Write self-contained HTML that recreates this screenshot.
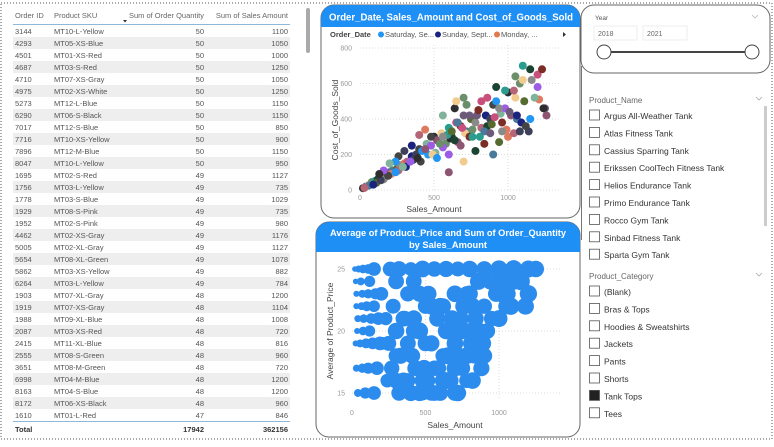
<!DOCTYPE html>
<html><head><meta charset="utf-8">
<style>
html,body{margin:0;padding:0;background:#fff;}
body{width:774px;height:442px;overflow:hidden;font-family:"Liberation Sans",sans-serif;}
svg text{font-family:"Liberation Sans",sans-serif;}
</style></head>
<body>
<svg id="root" width="774" height="442" viewBox="0 0 774 442" xmlns="http://www.w3.org/2000/svg">
  <rect x="1" y="3" width="771" height="436" fill="none" stroke="#555" stroke-width="1" stroke-dasharray="1,2"/>
  <g id="table"></g>
  <rect x="306" y="8" width="4" height="45" rx="2" fill="#aaa"/>

  <g>
    <rect x="321" y="5" width="259" height="213" rx="13" fill="#fff" stroke="#666" stroke-width="1"/>
    <path d="M321,27 V18 A13,13 0 0 1 334,5 H567 A13,13 0 0 1 580,18 V27 Z" fill="#1E8FF5"/>
    <text x="451" y="20.5" text-anchor="middle" font-size="10" font-weight="bold" fill="#fff" textLength="244" lengthAdjust="spacingAndGlyphs">Order_Date, Sales_Amount and Cost_of_Goods_Sold</text>
    <g font-size="7.5" fill="#555">
      <text x="330" y="37" font-weight="bold" fill="#444">Order_Date</text>
      <circle cx="381" cy="34.5" r="3" fill="#2196F3"/><text x="385" y="37">Saturday, Se...</text>
      <circle cx="438" cy="34.5" r="3" fill="#1a237e"/><text x="442" y="37">Sunday, Sept...</text>
      <circle cx="497" cy="34.5" r="3" fill="#E07A4F"/><text x="501" y="37">Monday, ...</text>
      <path d="M563,32 L566,34.5 L563,37 Z" fill="#333"/>
    </g>
    <g id="c1grid"></g>
    <g id="c1pts"></g>
    <text x="434" y="212" text-anchor="middle" font-size="8.5" fill="#444">Sales_Amount</text>
    <text transform="translate(338,120) rotate(-90)" text-anchor="middle" font-size="8.5" fill="#444">Cost_of_Goods_Sold</text>
  </g>

  <g>
    <rect x="316" y="222" width="264" height="215" rx="13" fill="#fff" stroke="#666" stroke-width="1"/>
    <path d="M316,252 V235 A13,13 0 0 1 329,222 H567 A13,13 0 0 1 580,235 V252 Z" fill="#1E8FF5"/>
    <text x="448" y="236" text-anchor="middle" font-size="9.5" font-weight="bold" fill="#fff" textLength="236" lengthAdjust="spacingAndGlyphs">Average of Product_Price and Sum of Order_Quantity</text>
    <text x="448" y="248" text-anchor="middle" font-size="9.5" font-weight="bold" fill="#fff" textLength="78" lengthAdjust="spacingAndGlyphs">by Sales_Amount</text>
    <g id="c2grid"></g>
    <g id="c2pts"></g>
    <text x="455" y="428" text-anchor="middle" font-size="8.5" fill="#444">Sales_Amount</text>
    <text transform="translate(333,331) rotate(-90)" text-anchor="middle" font-size="8.5" fill="#444">Average of Product_Price</text>
  </g>

  <g>
    <rect x="581" y="5" width="189" height="68" rx="13" fill="#fff" stroke="#666"/>
    <text x="595" y="20" font-size="6.5" fill="#555">Year</text>
    <path d="M752,15 l3,3 l3,-3" fill="none" stroke="#bbb" stroke-width="0.8"/>
    <rect x="594" y="26" width="43" height="14" fill="#fff" stroke="#eee"/>
    <text x="598" y="36" font-size="7" fill="#666">2018</text>
    <rect x="643" y="26" width="44" height="14" fill="#fff" stroke="#eee"/>
    <text x="647" y="36" font-size="7" fill="#666">2021</text>
    <line x1="611" y1="52" x2="745" y2="52" stroke="#444" stroke-width="2"/>
    <circle cx="604" cy="52" r="7" fill="#fff" stroke="#444"/>
    <circle cx="752" cy="52" r="7" fill="#fff" stroke="#444"/>
  </g>
  <line x1="581.5" y1="66" x2="581.5" y2="240" stroke="#777" stroke-width="1"/>

  <g id="slicers"></g>
  <rect x="764" y="106" width="3" height="120" fill="#ccc"/>
</svg>
<script>
const NS="http://www.w3.org/2000/svg";
function mk(tag,attrs,parent,txt){const e=document.createElementNS(NS,tag);for(const k in attrs)e.setAttribute(k,attrs[k]);if(txt!==undefined)e.textContent=txt;parent.appendChild(e);return e;}

// ---------- Table data ----------
const orderIds=[3144,4293,4501,4687,4710,4975,5273,6290,7017,7716,7896,8047,1695,1756,1778,1929,1952,4462,5005,5654,5862,6264,1903,1919,1988,2087,2415,2555,3651,6998,8163,8172,1610];
const skus=["MT10-L-Yellow","MT05-XS-Blue","MT01-XS-Red","MT03-S-Red","MT07-XS-Gray","MT02-XS-White","MT12-L-Blue","MT06-S-Black","MT12-S-Blue","MT10-XS-Yellow","MT12-M-Blue","MT10-L-Yellow","MT02-S-Red","MT03-L-Yellow","MT03-S-Blue","MT08-S-Pink","MT02-S-Pink","MT02-XS-Gray","MT02-XL-Gray","MT08-XL-Green","MT03-XS-Yellow","MT03-L-Yellow","MT07-XL-Gray","MT07-XS-Gray","MT09-XL-Blue","MT03-XS-Red","MT11-XL-Blue","MT08-S-Green","MT08-M-Green","MT04-M-Blue","MT04-S-Blue","MT06-XS-Black","MT01-L-Red"];
const quantities=[50,50,50,50,50,50,50,50,50,50,50,50,49,49,49,49,49,49,49,49,49,49,48,48,48,48,48,48,48,48,48,48,47];
const salesAmounts=[1100,1050,1000,1250,1050,1250,1150,1150,850,900,1150,950,1127,735,1029,735,980,1176,1127,1078,882,784,1200,1104,1008,720,816,960,720,1200,1200,960,846];
const totalQty="17942", totalSales="362156";

const tbl=document.getElementById('table');
mk('text',{x:15,y:18,'font-size':7.5,fill:'#666'},tbl,'Order ID');
mk('text',{x:54,y:18,'font-size':7.5,fill:'#666'},tbl,'Product SKU');
mk('text',{x:204,y:18,'font-size':7.5,fill:'#666','text-anchor':'end'},tbl,'Sum of Order Quantity');
mk('text',{x:288,y:18,'font-size':7.5,fill:'#666','text-anchor':'end'},tbl,'Sum of Sales Amount');
mk('path',{d:'M123,20 l4,0 l-2,2.5 z',fill:'#333'},tbl);
mk('line',{x1:13,y1:24.5,x2:290,y2:24.5,stroke:'#8fb8d8','stroke-width':1},tbl);
orderIds.forEach((id,i)=>{
  const y=25+i*12;
  const g=mk('g',{},tbl);
  
  
  if(i%2===1) mk('rect',{x:13,y:y,width:277,height:12,fill:'#eeeeee'},g);
  mk('text',{x:15,y:y+9,'font-size':7.5,fill:'#555'},g,String(id));
  mk('text',{x:54,y:y+9,'font-size':7.5,fill:'#555'},g,skus[i]);
  mk('text',{x:204,y:y+9,'font-size':7.5,fill:'#555','text-anchor':'end'},g,String(quantities[i]));
  mk('text',{x:288,y:y+9,'font-size':7.5,fill:'#555','text-anchor':'end'},g,String(salesAmounts[i]));
});
mk('line',{x1:13,y1:421.5,x2:290,y2:421.5,stroke:'#8fb8d8','stroke-width':1},tbl);
mk('text',{x:15,y:432,'font-size':7.5,fill:'#333','font-weight':'bold'},tbl,'Total');
mk('text',{x:204,y:432,'font-size':7.5,fill:'#333','font-weight':'bold','text-anchor':'end'},tbl,totalQty);
mk('text',{x:288,y:432,'font-size':7.5,fill:'#333','font-weight':'bold','text-anchor':'end'},tbl,totalSales);

// ---------- Chart 1 data ----------
const c1xTicks=[0,500,1000];
const c1yTicks=[0,200,400,600,800];
const c1Sales=[20,40,60,80,100,120,150,170,200,220,250,270,300,320,350,380,400,420,450,480,500,520,550,580,600,620,650,680,700,720,750,780,800,820,850,880,900,920,950,980,1000,1020,1050,1080,1100,1150,1200,1230,1250,
 60,110,160,210,260,310,360,410,460,510,560,610,660,710,760,810,860,910,960,1010,1060,1110,1160,1210,
 30,90,140,190,240,290,340,390,440,490,540,590,640,690,740,790,840,890,940,990,1040,1090,1140,
 480,520,560,600,640,680,700,720,760,780,820,840,880,900,940,960,1000,1040,1060,1080,1120,1150,1180,1200,1240,1260,1100,1050,980,920,860,800,740,660,620,560,440,400,350,300,260,240,200,160,130,600,650,700];
const c1Cost=[10,20,30,45,50,60,70,90,100,110,120,140,150,160,190,200,230,220,260,250,300,280,320,260,350,300,380,360,420,330,400,380,450,350,420,400,480,500,430,460,550,420,520,600,700,680,650,680,460,
 25,40,60,90,110,130,170,160,200,210,240,290,270,320,340,300,360,410,380,440,400,500,620,510,
 12,30,55,80,100,130,160,180,230,200,260,310,280,350,300,420,330,370,460,340,560,380,330,
 300,180,420,200,460,250,160,480,300,220,500,260,320,200,270,330,300,320,420,330,360,400,520,580,460,420,620,640,560,580,520,450,420,380,330,300,340,310,250,220,190,160,150,110,90,100,500,520];
const c1Colors=['#2E2E2E','#6B8E6B','#C94F7C','#4A7A9A','#E07A5F','#3D405B','#81B29A','#8E5572','#2A9D8F','#7B2D26','#556B2F','#B56576','#444444','#9B5DE5','#F2CC8F','#1B4332','#6D597A','#8a8a8a','#1a237e','#2196F3'];
const c1x=v=>360+v*0.148, c1y=v=>190-v*0.1775;
const g1=document.getElementById('c1grid');
c1yTicks.forEach(t=>{
  mk('line',{x1:360,x2:560,y1:c1y(t),y2:c1y(t),stroke:'#ddd','stroke-dasharray':'1,2'},g1);
  const e=mk('text',{x:352,y:c1y(t)+2.5,'font-size':7,fill:'#999','text-anchor':'end'},g1,String(t));
  
  
});
c1xTicks.forEach(t=>{
  if(t>0) mk('line',{x1:c1x(t),x2:c1x(t),y1:45,y2:190,stroke:'#ddd','stroke-dasharray':'1,2'},g1);
  const e=mk('text',{x:c1x(t),y:200,'font-size':7,fill:'#999','text-anchor':'middle'},g1,String(t));
  
  
});
const p1=document.getElementById('c1pts');
c1Sales.forEach((s,i)=>{
  const c=mk('circle',{cx:c1x(s),cy:c1y(c1Cost[i]),r:4,fill:c1Colors[(i*7)%c1Colors.length]},p1);
  
  
});

// ---------- Chart 2 data ----------
const c2xTicks=[0,500,1000];
const c2yTicks=[15,20,25];
const c2Sales=[20,45,75,110,150,25,60,120,30,70,110,160,200,30,65,100,150,40,80,130,180,35,75,120,25,55,95,140,190,30,70,110,170,40,90,150,
 260,320,400,480,560,640,720,800,900,1000,1100,1200,1250,
 300,380,460,540,620,700,780,860,940,1020,1100,
 280,350,420,500,580,660,740,820,900,980,1060,
 300,380,460,540,620,700,780,860,950,1050,
 250,330,410,490,570,650,730,810,890,
 270,350,430,510,590,670,750,830,
 300,380,460,540,620,700,780,
 320,400,480,560,640,720,
 420,520,600,680,760,840,920,1000,1080,1150,1200,1180,850,780,700,640,820,900,560,480,420,360,300,240,230,210,640,740,800,960,1040,880,720,600,500];
const c2Price=[25,25,25,25,25,24,24,24,23,23,23,23,23,22,22,22,22,21,21,21,21,20,20,20,19,19,19,19,19,17,17,17,17,15,15,15,
 25,25,25,25,25,25,25,25,25,25,25,25,25,
 24,23,23,22,22,23,23,24,24,23,24,
 22,21,21,22,21,20,21,22,22,23,23,
 20,19,20,19,18,19,20,20,21,22,
 19,18,18,17,17,18,18,19,19,
 17,16,17,16,17,16,17,18,
 16,16,15,15,16,15,16,
 15,15,15,15,16,15,
 24,23,22,21,22,21,20,21,22,24,23,22,19,18,17,16,16,18,17,16,20,21,18,16,21,19,20,20,23,24,24,17,15,15,19];
const c2Qty=[5,8,12,15,30,5,10,20,6,10,14,20,30,6,10,16,22,8,12,18,26,6,12,20,6,10,16,22,30,8,14,20,30,10,20,30,
 35,40,30,45,38,42,36,44,40,48,50,46,44,
 40,38,42,45,40,44,38,46,42,48,45,
 36,40,44,38,42,46,40,44,38,42,40,
 44,40,46,42,38,44,40,46,38,42,
 36,42,40,44,38,46,40,42,44,
 38,42,40,44,36,42,40,38,
 40,36,42,38,44,40,36,
 38,42,36,40,38,34,
 40,42,44,45,46,44,40,46,48,50,48,46,42,45,44,46,44,40,38,40,40,38,36,30,28,26,44,46,44,46,46,42,44,40,40];
const c2x=v=>352+v*0.147, c2y=v=>331-(v-20)*12.4;
const g2=document.getElementById('c2grid');
c2yTicks.forEach(t=>{
  mk('line',{x1:352,x2:560,y1:c2y(t),y2:c2y(t),stroke:'#ddd','stroke-dasharray':'1,2'},g2);
  const e=mk('text',{x:345,y:c2y(t)+2.5,'font-size':7,fill:'#999','text-anchor':'end'},g2,String(t));
  
  
});
c2xTicks.forEach(t=>{
  if(t>0) mk('line',{x1:c2x(t),x2:c2x(t),y1:262,y2:400,stroke:'#ddd','stroke-dasharray':'1,2'},g2);
  const e=mk('text',{x:c2x(t),y:415,'font-size':7,fill:'#999','text-anchor':'middle'},g2,String(t));
  
  
});
const p2=document.getElementById('c2pts');
c2Sales.forEach((s,i)=>{
  const q=c2Qty[i]||30;
  const c=mk('circle',{cx:c2x(s),cy:c2y(c2Price[i]),r:1.25*Math.sqrt(q),fill:'#2B8CEE'},p2);
  
  
});

// ---------- Slicers ----------
const productNames=["Argus All-Weather Tank","Atlas Fitness Tank","Cassius Sparring Tank","Erikssen CoolTech Fitness Tank","Helios Endurance Tank","Primo Endurance Tank","Rocco Gym Tank","Sinbad Fitness Tank","Sparta Gym Tank"];
const productCategories=["(Blank)","Bras & Tops","Hoodies & Sweatshirts","Jackets","Pants","Shorts","Tank Tops","Tees"];
const checkedCategory="Tank Tops";
const sl=document.getElementById('slicers');
function slicer(title,items,y0,name){
  const h=mk('text',{x:589,y:y0,'font-size':8,fill:'#666'},sl,title);
  
  
  mk('path',{d:`M756,${y0-6} l3,3 l3,-3`,fill:'none',stroke:'#aaa','stroke-width':0.8},sl);
  items.forEach((it,i)=>{
    const y=y0+15+i*17.4;
    const g=mk('g',{},sl);
    
    
    const on=it===checkedCategory;
    mk('rect',{x:589.5,y:y-8,width:10,height:10,fill:on?'#222':'#fff',stroke:'#555','stroke-width':0.8},g);
    mk('text',{x:604,y:y+1,'font-size':8.5,fill:'#333'},g,it);
  });
}
slicer('Product_Name',productNames,103,'product-name');
slicer('Product_Category',productCategories,279,'product-category');
</script>
</body></html>
